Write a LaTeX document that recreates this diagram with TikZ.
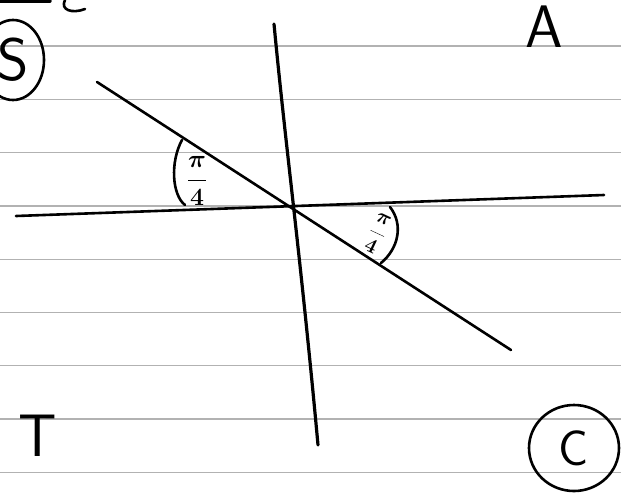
\documentclass[tikz,border=0pt]{standalone}
\usetikzlibrary{positioning,calc}
\begin{document}
\begin{tikzpicture}[x=1pt, y=-1pt,
    ruled/.style={draw=black!30, line width=1.3pt},
    stroke/.style={draw, line width=2.6pt, line cap=round},
    letter/.style={font=\sffamily\fontsize{60}{60}\selectfont, inner sep=0pt},
    anglelabel/.style={font=\fontsize{30}{30}\selectfont\boldmath, inner sep=0pt}]
    \useasboundingbox (0,0) rectangle (621,496);
    \clip (0,0) rectangle (621,496);
    \fill[white] (0,0) rectangle (621,496);
    % ruled paper
    \foreach \y in {46,99.3,...,480}
        \draw[ruled] (0,\y) -- (621,\y);

    % axes and the diagonal
    \coordinate (west) at (16,216);
    \coordinate (east) at (604,195);
    \coordinate (north) at (274,24);
    \coordinate (south) at (318,445);
    \coordinate (nw) at (97,82);
    \coordinate (se) at (511,350);
    \draw[stroke] (west) -- (east);
    \draw[stroke, line width=3.2pt] (north) .. controls (286,150) and (300,250) .. (south);
    \draw[stroke] (nw) -- (se);

    % angle marks
    \node[anglelabel] (angleup) at (197,181) {$\displaystyle\frac{\pi}{4}$};
    \node[anglelabel, font=\fontsize{22}{22}\selectfont\boldmath, rotate=-25] (angledown) at (377,234) {$\displaystyle\frac{\pi}{4}$};
    \draw[stroke] (182,140) .. controls (170,162) and (172,195) .. (185,205);
    \draw[stroke] (390,207) .. controls (404,225) and (398,249) .. (381,263);

    % quadrant letters
    \node[letter] (lettera) at (544,27) {A};
    \node[letter] (letters) at (13,60) {S};
    \node[letter] (lettert) at (38,436) {T};
    \node[letter, font=\sffamily\fontsize{50}{50}\selectfont] (letterc) at (574,448) {C};
    \draw[stroke] (letters) ellipse [x radius=31, y radius=40];
    \draw[stroke] (letterc) ellipse [x radius=45, y radius=43];

    % fragment at the top edge
    \draw[stroke, line width=3.4pt] (0,1) -- (50,1);
    \draw[stroke] (65,0) .. controls (60,10) and (72,14) .. (85,9);
\end{tikzpicture}
\end{document}
